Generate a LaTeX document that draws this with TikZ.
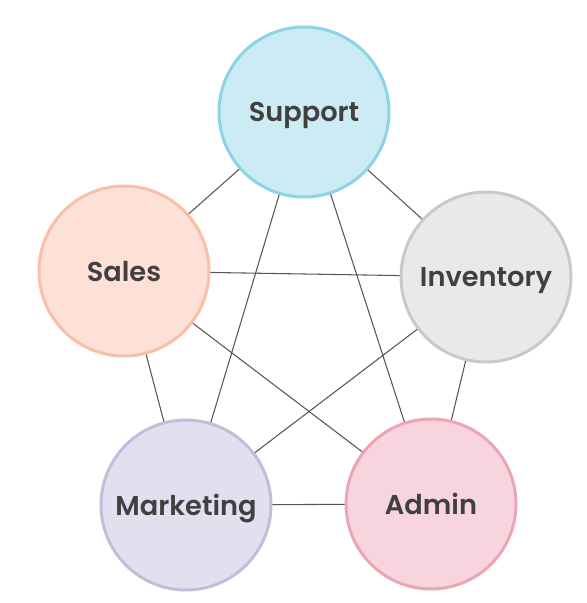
\documentclass[tikz,border=0pt]{standalone}
\usepackage{fontspec}
\newfontfamily\lblfont{Poppins SemiBold}
\usetikzlibrary{positioning}

\definecolor{txtgray}{HTML}{404040}
\definecolor{edgegray}{HTML}{555555}

\begin{document}
\begin{tikzpicture}[x=0.02cm,y=-0.02cm]

\tikzset{vertex/.style = {shape=circle,draw,line width=1.7pt,minimum size=3.4cm,inner sep=0pt,
  text depth=0pt,text=txtgray,font=\lblfont\fontsize{15.5}{18}\selectfont}}
\tikzset{edge/.style = {draw=edgegray,line width=0.6pt}}
\useasboundingbox (0,0) rectangle (587,603);
%verticies
\node[vertex, draw={rgb,255:red,141;green,211;blue,230}, fill={rgb,255:red,205;green,235;blue,244}] (support) at (304,112) {Support};
\node[vertex, draw={rgb,255:red,249;green,191;blue,168}, fill={rgb,255:red,253;green,224;blue,214}] (sales) at (124,271) {Sales};
\node[vertex, draw={rgb,255:red,201;green,201;blue,201}, fill={rgb,255:red,233;green,233;blue,233}] (inventory) at (486,277) {Inventory};
\node[vertex, draw={rgb,255:red,193;green,189;blue,219}, fill={rgb,255:red,226;green,224;blue,239}] (marketing) at (186,505) {Marketing};
\node[vertex, draw={rgb,255:red,235;green,165;blue,181}, fill={rgb,255:red,248;green,213;blue,222}] (admin) at (431,504) {Admin};
%edges
\draw [edge] (support) -- (sales);
\draw [edge] (support) -- (inventory);
\draw [edge] (support) -- (marketing);
\draw [edge] (support) -- (admin);
\draw [edge] (sales) -- (inventory);
\draw [edge] (sales) -- (marketing);
\draw [edge] (sales) -- (admin);
\draw [edge] (inventory) -- (marketing);
\draw [edge] (inventory) -- (admin);
\draw [edge] (marketing) -- (admin);

\end{tikzpicture}
\end{document}
